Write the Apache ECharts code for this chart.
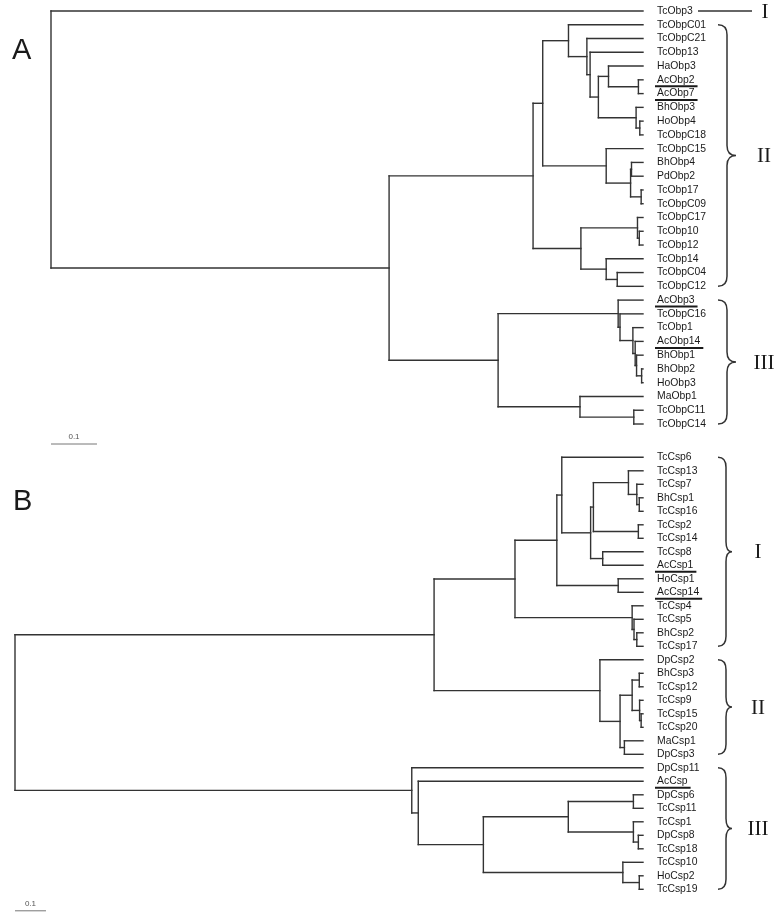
<!DOCTYPE html>
<html><head><meta charset="utf-8">
<script src="https://cdn.jsdelivr.net/npm/echarts@6/dist/echarts.min.js"></script>
<style>html,body{margin:0;padding:0;background:#fff}#c{width:777px;height:916px}</style>
</head><body><div id="c"></div>
<script>
// ---------- Panel A (OBPs) ----------
const leavesA = ['TcObp3','TcObpC01','TcObpC21','TcObp13','HaObp3','AcObp2','AcObp7','BhObp3','HoObp4','TcObpC18',
  'TcObpC15','BhObp4','PdObp2','TcObp17','TcObpC09','TcObpC17','TcObp10','TcObp12','TcObp14','TcObpC04','TcObpC12',
  'AcObp3','TcObpC16','TcObp1','AcObp14','BhObp1','BhObp2','HoObp3','MaObp1','TcObpC11','TcObpC14'];
const underlinedA = ['AcObp2','AcObp7','AcObp3','AcObp14'];
// node = [height (distance from tips), child, child, ...]; leaves are names
const treeA = [1.287, 'TcObp3',
  [0.552,
    [0.239,
      [0.218,
        [0.162, 'TcObpC01',
          [0.122, 'TcObpC21',
            [0.115, 'TcObp13',
              [0.097,
                [0.075, 'HaObp3', [0.010, 'AcObp2', 'AcObp7']],
                [0.015, 'BhObp3', [0.007, 'HoObp4', 'TcObpC18']]]]]],
        [0.080, 'TcObpC15', [0.027, [0.025, 'BhObp4', 'PdObp2'], [0.004, 'TcObp17', 'TcObpC09']]]],
      [0.135,
        [0.012, 'TcObpC17', [0.008, 'TcObp10', 'TcObp12']],
        [0.080, 'TcObp14', [0.056, 'TcObpC04', 'TcObpC12']]]],
    [0.315,
      [0.054, 'AcObp3', [0.050, 'TcObpC16', [0.022, 'TcObp1', [0.017, 'AcObp14', [0.014, 'BhObp1', [0.003, 'BhObp2', 'HoObp3']]]]]],
      [0.137, 'MaObp1', [0.020, 'TcObpC11', 'TcObpC14']]]]];
const cladesA = [['I', 'TcObp3', 'TcObp3'], ['II', 'TcObpC01', 'TcObpC12'], ['III', 'AcObp3', 'TcObpC14']];
const scaleA = 0.1;

// ---------- Panel B (CSPs) ----------
const leavesB = ['TcCsp6','TcCsp13','TcCsp7','BhCsp1','TcCsp16','TcCsp2','TcCsp14','TcCsp8','AcCsp1','HoCsp1','AcCsp14',
  'TcCsp4','TcCsp5','BhCsp2','TcCsp17','DpCsp2','BhCsp3','TcCsp12','TcCsp9','TcCsp15','TcCsp20','MaCsp1','DpCsp3',
  'DpCsp11','AcCsp','DpCsp6','TcCsp11','TcCsp1','DpCsp8','TcCsp18','TcCsp10','HoCsp2','TcCsp19'];
const underlinedB = ['AcCsp1','AcCsp14','AcCsp'];
const treeB = [2.026,
  [0.674,
    [0.413,
      [0.278,
        [0.262, 'TcCsp6',
          [0.169,
            [0.160,
              [0.047, 'TcCsp13', [0.020, 'TcCsp7', [0.012, 'BhCsp1', 'TcCsp16']]],
              [0.015, 'TcCsp2', 'TcCsp14']],
            [0.130, 'TcCsp8', 'AcCsp1']]],
        [0.080, 'HoCsp1', 'AcCsp14']],
      [0.035, 'TcCsp4', [0.029, 'TcCsp5', [0.020, 'BhCsp2', 'TcCsp17']]]],
    [0.139, 'DpCsp2',
      [0.074,
        [0.035, [0.012, 'BhCsp3', 'TcCsp12'], [0.011, 'TcCsp9', [0.006, 'TcCsp15', 'TcCsp20']]],
        [0.060, 'MaCsp1', 'DpCsp3']]]],
  [0.746, 'DpCsp11',
    [0.725, 'AcCsp',
      [0.515,
        [0.241, [0.031, 'DpCsp6', 'TcCsp11'], [0.031, 'TcCsp1', [0.015, 'DpCsp8', 'TcCsp18']]],
        [0.065, 'TcCsp10', [0.012, 'HoCsp2', 'TcCsp19']]]]]];
const cladesB = [['I', 'TcCsp6', 'TcCsp17'], ['II', 'DpCsp2', 'DpCsp3'], ['III', 'DpCsp11', 'TcCsp19']];
const scaleB = 0.1;

// ---------- build ----------
const LINE = '#333';
const LABEL_FONT = '10.4px "Liberation Sans", Arial, sans-serif';
const ROMAN_FONT = '21px "Liberation Serif", "Times New Roman", serif';
const measureCtx = document.createElement('canvas').getContext('2d');
function textW(t, font) { measureCtx.font = font; return measureCtx.measureText(t).width; }

function segmentsOf(tree, leaves) {
  const idx = {}; leaves.forEach((n, i) => idx[n] = i);
  const segs = [];
  function walk(node) {
    if (typeof node === 'string') return idx[node];
    const h = node[0];
    const ys = node.slice(1).map(k => {
      const y = walk(k);
      const kh = typeof k === 'string' ? 0 : k[0];
      segs.push([h, y, kh, y]);
      return y;
    });
    segs.push([h, ys[0], h, ys[ys.length - 1]]);
    return (ys[0] + ys[ys.length - 1]) / 2;
  }
  walk(tree);
  return segs;
}

function panelSeries(gi, tree, leaves, underlined, clades, scale, br) {
  const segs = segmentsOf(tree, leaves);
  const out = [];
  out.push({
    type: 'custom', xAxisIndex: gi, yAxisIndex: gi, silent: true,
    encode: { x: [0, 2], y: [1, 3] },
    data: segs,
    renderItem(params, api) {
      const p1 = api.coord([api.value(0), api.value(1)]);
      const p2 = api.coord([api.value(2), api.value(3)]);
      return { type: 'line', shape: { x1: p1[0], y1: p1[1], x2: p2[0], y2: p2[1] },
        style: { stroke: LINE, lineWidth: 1.4, lineCap: 'square' } };
    }
  });
  out.push({
    type: 'custom', xAxisIndex: gi, yAxisIndex: gi, silent: true,
    encode: { x: 0, y: 1 },
    data: leaves.map((n, i) => [0, i]),
    renderItem(params, api) {
      const name = leaves[params.dataIndex];
      const p = api.coord([api.value(0), api.value(1)]);
      const x = p[0] + 14;
      const children = [{ type: 'text', x: x, y: p[1],
        style: { text: name, font: LABEL_FONT, fill: '#1a1a1a', align: 'left', verticalAlign: 'middle' } }];
      if (underlined.indexOf(name) >= 0) {
        const w = textW(name, LABEL_FONT);
        children.push({ type: 'line', shape: { x1: x - 2, y1: p[1] + 6.5, x2: x + w + 3, y2: p[1] + 6.5 },
          style: { stroke: '#1a1a1a', lineWidth: 2 } });
      }
      return { type: 'group', children };
    }
  });
  out.push({
    type: 'custom', xAxisIndex: gi, yAxisIndex: gi, silent: true,
    encode: { x: 0, y: [1, 2] },
    data: clades.map(c => [0, leaves.indexOf(c[1]), leaves.indexOf(c[2])]),
    renderItem(params, api) {
      const label = clades[params.dataIndex][0];
      const a = api.coord([0, api.value(1)]);
      const b = api.coord([0, api.value(2)]);
      const tip = a[0];
      const ch = [];
      if (api.value(1) === api.value(2)) {
        ch.push({ type: 'line', shape: { x1: tip + 55, y1: a[1], x2: tip + 109, y2: a[1] },
          style: { stroke: LINE, lineWidth: 1.3 } });
        ch.push({ type: 'text', x: tip + br.num + 1, y: a[1] + 1,
          style: { text: label, font: ROMAN_FONT, fill: '#1a1a1a', align: 'center', verticalAlign: 'middle' } });
      } else {
        const x0 = tip + br.left, x1 = tip + br.vert, x2 = tip + br.tip;
        const y0 = a[1], y1 = b[1], ym = (y0 + y1) / 2, r = 10;
        const d = `M${x0},${y0} Q${x1},${y0} ${x1},${y0 + r} L${x1},${ym - r} Q${x1},${ym} ${x2},${ym} ` +
          `Q${x1},${ym} ${x1},${ym + r} L${x1},${y1 - r} Q${x1},${y1} ${x0},${y1}`;
        ch.push({ type: 'path', shape: { pathData: d }, style: { fill: null, stroke: LINE, lineWidth: 1.5 } });
        ch.push({ type: 'text', x: tip + br.num, y: ym + 1,
          style: { text: label, font: ROMAN_FONT, fill: '#1a1a1a', align: 'center', verticalAlign: 'middle' } });
      }
      return { type: 'group', children: ch };
    }
  });
  out.push({
    type: 'custom', xAxisIndex: gi, yAxisIndex: gi, silent: true,
    encode: { x: [0, 1], y: 2 },
    data: [[tree[0], tree[0] - scale, leaves.length - 1]],
    renderItem(params, api) {
      const p1 = api.coord([api.value(0), api.value(2)]);
      const p2 = api.coord([api.value(1), api.value(2)]);
      const y = p1[1] + br.sy;
      return { type: 'group', children: [
        { type: 'line', shape: { x1: p1[0], y1: y, x2: p2[0], y2: y }, style: { stroke: '#777', lineWidth: 1 } },
        { type: 'text', x: (p1[0] + p2[0]) / 2, y: y - 7,
          style: { text: String(scale), font: '8px "Liberation Sans", Arial, sans-serif', fill: '#555', align: 'center', verticalAlign: 'middle' } }
      ] };
    }
  });
  return out;
}

const chart = echarts.init(document.getElementById('c'), null, { renderer: 'canvas' });
const option = {
  backgroundColor: '#fff',
  animation: false,
  grid: [
    { left: 51, top: 11, width: 592, height: 413 },
    { left: 15, top: 457.3, width: 628, height: 432 }
  ],
  xAxis: [
    { gridIndex: 0, type: 'value', inverse: true, min: 0, max: treeA[0], show: false },
    { gridIndex: 1, type: 'value', inverse: true, min: 0, max: treeB[0], show: false }
  ],
  yAxis: [
    { gridIndex: 0, type: 'value', inverse: true, min: 0, max: leavesA.length - 1, show: false },
    { gridIndex: 1, type: 'value', inverse: true, min: 0, max: leavesB.length - 1, show: false }
  ],
  graphic: [
    { type: 'text', x: 12, y: 51, style: { text: 'A', font: '29px "Liberation Sans", Arial, sans-serif', fill: '#1a1a1a', verticalAlign: 'middle' } },
    { type: 'text', x: 13, y: 502, style: { text: 'B', font: '29px "Liberation Sans", Arial, sans-serif', fill: '#1a1a1a', verticalAlign: 'middle' } }
  ],
  series: [].concat(
    panelSeries(0, treeA, leavesA, underlinedA, cladesA, scaleA, { left: 75, vert: 84, tip: 93, num: 121, sy: 20 }),
    panelSeries(1, treeB, leavesB, underlinedB, cladesB, scaleB, { left: 75, vert: 83, tip: 89, num: 115, sy: 21.5 })
  )
};
chart.setOption(option);
</script></body></html>
